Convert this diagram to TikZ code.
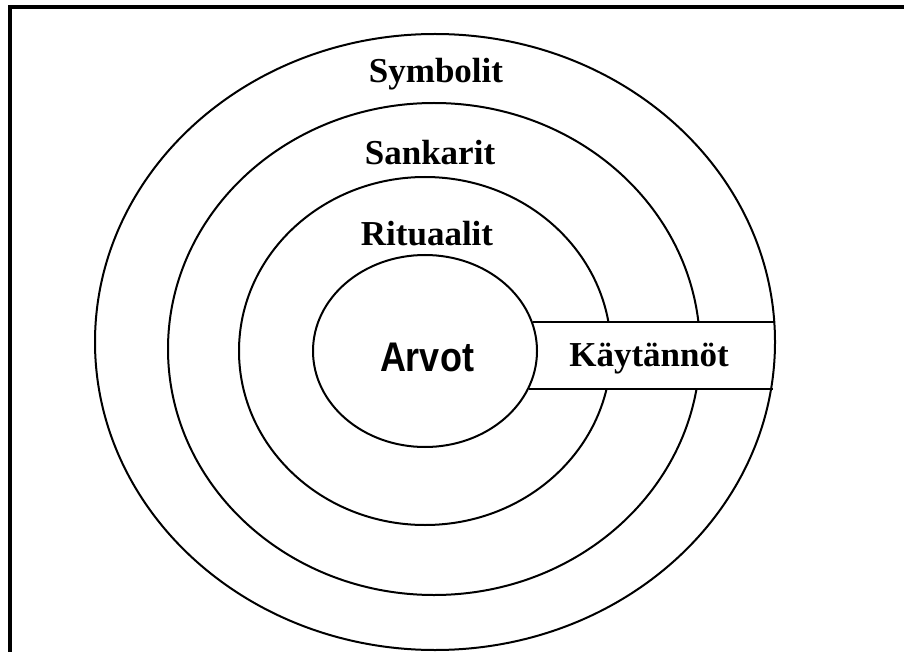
\documentclass[tikz,border=0pt]{standalone}
\usepackage{fontspec}
\setmainfont{Liberation Serif}
\newfontfamily\arvotfont{Liberation Sans}
\usepackage{graphicx}
\usetikzlibrary{shapes.geometric, positioning}

\begin{document}
\begin{tikzpicture}[
    x=1pt, y=-1pt,
    ring/.style={draw, ellipse, line width=2pt, inner sep=0pt},
    layer/.style={font=\fontsize{35}{42}\selectfont\bfseries, anchor=base},
    band/.style={line width=2pt}
    ]
    \useasboundingbox (0,0) rectangle (904,652);
    \draw[line width=4pt] (10,652) -- (10,7) -- (904,7);

    % rings from outside in
    \node[ring, minimum width=680pt, minimum height=616pt] (symbolit) at (435,342) {};
    \node[ring, minimum width=532pt, minimum height=492pt] (sankarit) at (434,349) {};
    \node[ring, minimum width=372pt, minimum height=348pt] (rituaalit) at (425,351) {};
    \node[ring, minimum width=224pt, minimum height=192pt] (arvot) at (425,351) {};

    % the band of practices
    \fill[white] ([xshift=2pt]arvot.east |- arvot.15) rectangle ([xshift=5pt]sankarit.east |- arvot.-20);
    \draw[band, shorten >=2pt] (arvot.15) -- (arvot.15 -| symbolit.east);
    \draw[band, shorten >=3pt] (arvot.-20) -- (arvot.-20 -| symbolit.east);

    \node (arvotlabel) at (427,357)
        {\arvotfont\fontsize{36}{42}\selectfont\bfseries\scalebox{1}[1.15]{Arvot}};
    \node[layer] (symbolitlabel) at (436,83) {Symbolit};
    \node[layer] (sankaritlabel) at (430,165) {Sankarit};
    \node[layer] (rituaalitlabel) at (427,245) {Rituaalit};
    \node[layer] (kaytannot) at (649,366) {Käytännöt};
\end{tikzpicture}
\end{document}
